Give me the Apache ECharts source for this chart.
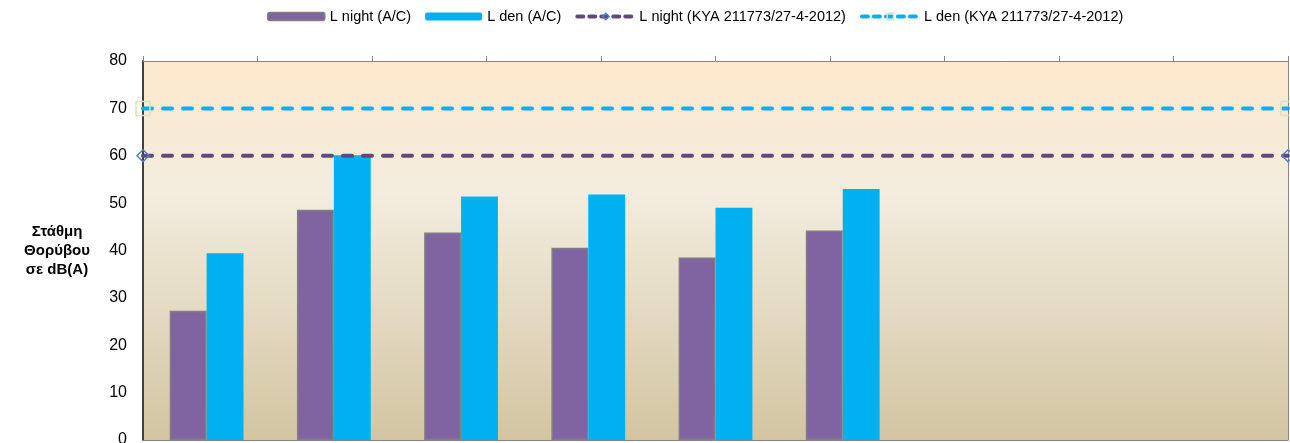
<!DOCTYPE html>
<html>
<head>
<meta charset="utf-8">
<script src="https://cdn.jsdelivr.net/npm/echarts@6/dist/echarts.min.js"></script>
<style>
  html, body { margin: 0; padding: 0; background: #fff; }
  #chart { width: 1290px; height: 443px; }
</style>
</head>
<body>
<div id="chart"></div>
<script>
// 9 θέσεις μέτρησης, μόνο οι 6 πρώτες έχουν τιμές
var categories = ["1", "2", "3", "4", "5", "6", "7", "8", "9"];
var lNight = [27.3, 48.6, 43.8, 40.6, 38.5, 44.2];
var lDen = [39.4, 60.1, 51.4, 51.8, 49.0, 53.0];
// όρια ΚΥΑ
var limitNight = 60;
var limitDen = 70;
var yTicks = [0, 80, 10]; // min, max, interval

var chart = echarts.init(document.getElementById("chart"));

var dash = { width: 4, type: [9, 11], cap: "round" };

var option = {
  animation: false,
  textStyle: { fontFamily: "Arial, 'Liberation Sans', sans-serif" },
  legend: {
    top: 4,
    left: 262,
    itemWidth: 57,
    itemHeight: 8,
    itemGap: 14,
    textStyle: { fontSize: 14.5, color: "#000" },
    data: [
      { name: "L night (A/C)", itemStyle: { borderColor: "#7f7f7f", borderWidth: 1.5 } },
      { name: "L den (A/C)" },
      {
        name: "L night (KYA 211773/27-4-2012)",
        itemStyle: { color: "transparent", borderColor: "#4f81bd", borderWidth: 1.5 },
        lineStyle: { color: "#604a7b", width: 4, type: [6, 6], cap: "round" },
      },
      {
        name: "L den (KYA 211773/27-4-2012)",
        itemStyle: { color: "transparent", borderColor: "#d7e4bd", borderWidth: 1.5 },
        lineStyle: { color: "#00b0f0", width: 4, type: [6, 6], cap: "round" },
      },
    ],
  },
  grid: {
    left: 143,
    right: 2,
    top: 61,
    bottom: 3,
    outerBoundsMode: "none",
    show: true,
    borderWidth: 0,
    backgroundColor: new echarts.graphic.LinearGradient(0, 0, 0, 1, [
      { offset: 0, color: "#fde9cc" },
      { offset: 0.35, color: "#f3eddf" },
      { offset: 1, color: "#d3c5a2" },
    ]),
  },
  xAxis: [
    {
      type: "category",
      data: categories,
      position: "bottom",
      axisLine: { onZero: false, lineStyle: { color: "#868686", width: 1 } },
      axisTick: { show: false },
      axisLabel: { show: false },
    },
    {
      // δευτερεύων άξονας για τις γραμμές ορίων
      type: "value",
      position: "top",
      min: 0,
      max: 10,
      interval: 1,
      axisLine: { show: true, onZero: false, lineStyle: { color: "#868686", width: 1 } },
      axisTick: { show: true, length: 5, lineStyle: { color: "#868686" } },
      axisLabel: { show: false },
      splitLine: { show: false },
    },
  ],
  yAxis: [
    {
      type: "value",
      min: yTicks[0],
      max: yTicks[1],
      interval: yTicks[2],
      name: "Στάθμη\nΘορύβου\nσε dB(A)",
      nameLocation: "middle",
      nameRotate: 0,
      nameGap: 86,
      nameTextStyle: {
        fontSize: 15,
        fontWeight: "bold",
        color: "#000",
        align: "center",
        verticalAlign: "middle",
        lineHeight: 19,
        padding: [4, 0, 0, 0],
      },
      axisLine: { show: true, onZero: false, lineStyle: { color: "#404040", width: 2 } },
      axisTick: { show: false },
      axisLabel: { fontSize: 16, color: "#000", margin: 16 },
      splitLine: { show: false },
    },
    {
      // δεξί περίγραμμα
      type: "value",
      position: "right",
      min: yTicks[0],
      max: yTicks[1],
      interval: yTicks[2],
      axisLine: { show: true, onZero: false, lineStyle: { color: "#868686", width: 1 } },
      axisTick: { show: false },
      axisLabel: { show: false },
      splitLine: { show: false },
    },
  ],
  series: [
    {
      name: "L night (A/C)",
      type: "bar",
      data: lNight,
      barWidth: "29%",
      barGap: "0%",
      itemStyle: {
        color: "#8064a2",
        borderColor: "#7f7f7f",
        borderWidth: 1.5,
      },
    },
    {
      name: "L den (A/C)",
      type: "bar",
      data: lDen,
      barWidth: "29%",
      barGap: "0%",
      itemStyle: { color: "#00b0f0" },
    },
    {
      name: "L night (KYA 211773/27-4-2012)",
      type: "line",
      xAxisIndex: 1,
      data: [[0, limitNight], [10, limitNight]],
      symbol: "diamond",
      symbolSize: 12,
      itemStyle: { color: "transparent", borderColor: "#4f81bd", borderWidth: 1.5 },
      lineStyle: Object.assign({ color: "#604a7b" }, dash),
      z: 5,
    },
    {
      name: "L den (KYA 211773/27-4-2012)",
      type: "line",
      xAxisIndex: 1,
      data: [[0, limitDen], [10, limitDen]],
      symbol: "rect",
      symbolSize: 14,
      itemStyle: { color: "transparent", borderColor: "#d7e4bd", borderWidth: 1.5 },
      lineStyle: Object.assign({ color: "#00b0f0" }, dash),
      z: 5,
    },
  ],
};

chart.setOption(option);
</script>
</body>
</html>
